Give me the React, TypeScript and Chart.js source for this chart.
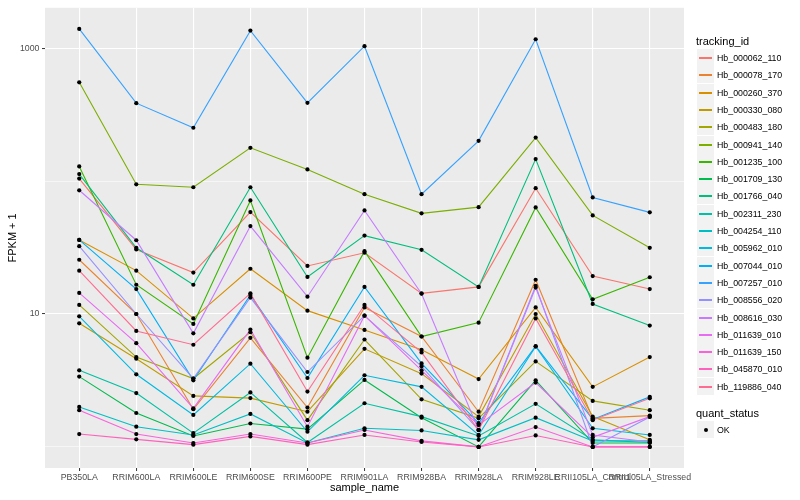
import React, { useEffect, useRef } from "react";
import { Chart, registerables } from "chart.js";

Chart.register(...registerables);

const CATEGORIES = [
  "PB350LA", "RRIM600LA", "RRIM600LE", "RRIM600SE", "RRIM600PE", "RRIM901LA",
  "RRIM928BA", "RRIM928LA", "RRIM928LE", "RRII105LA_Control", "RRII105LA_Stressed",
];

const Y_GRID = [1, 10, 100, 1000];
const Y_LABELED = [10, 1000];

const TRACKING_IDS = [
  "Hb_000062_110", "Hb_000078_170", "Hb_000260_370", "Hb_000330_080", "Hb_000483_180",
  "Hb_000941_140", "Hb_001235_100", "Hb_001709_130", "Hb_001766_040", "Hb_002311_230",
  "Hb_004254_110", "Hb_005962_010", "Hb_007044_010", "Hb_007257_010", "Hb_008556_020",
  "Hb_008616_030", "Hb_011639_010", "Hb_011639_150", "Hb_045870_010", "Hb_119886_040",
];

const COLORS = [
  "#F8766D", "#EA8331", "#D89000", "#C09B00", "#A3A500", "#7CAE00", "#39B600", "#00BB4E",
  "#00BF7D", "#00C1A3", "#00BFC4", "#00BAE0", "#00B0F6", "#35A2FF", "#9590FF", "#C77CFF",
  "#E76BF3", "#FA62DB", "#FF62BC", "#FF6C91",
];

const hb_000062_110 = [104.4, 30.6, 20.5, 58.5, 23.0, 28.9, 14.3, 16.0, 88.4, 19.3, 15.4];
const hb_000078_170 = [25.6, 10.0, 1.92, 6.62, 1.98, 11.2, 6.77, 1.84, 18.1, 1.64, 1.72];
const hb_000260_370 = [36.1, 21.2, 9.27, 21.9, 10.6, 7.59, 5.38, 3.24, 11.2, 2.83, 4.74];
const hb_000330_080 = [8.51, 4.61, 2.42, 2.33, 1.84, 5.47, 3.56, 1.69, 10.0, 1.69, 1.13];
const hb_000483_180 = [11.7, 4.74, 3.27, 7.29, 1.59, 6.43, 2.28, 1.64, 4.4, 2.22, 1.89];
const hb_000941_140 = [554, 94.6, 89.9, 178, 122.5, 79.7, 57.2, 63.7, 212.5, 55.2, 31.5];
const hb_001235_100 = [129, 16.6, 8.42, 71.5, 4.69, 29.7, 6.77, 8.61, 63.4, 12.9, 18.9];
const hb_001709_130 = [3.38, 1.8, 1.21, 1.5, 1.36, 3.19, 1.66, 1.0, 3.17, 1.07, 1.07];
const hb_001766_040 = [113, 31.5, 16.6, 89.9, 19.0, 38.9, 30.4, 16.0, 146.5, 11.9, 8.18];
const hb_002311_230 = [3.77, 2.54, 1.27, 2.57, 1.08, 2.13, 1.69, 1.21, 2.11, 1.13, 1.08];
const hb_004254_110 = [2.0, 1.42, 1.23, 1.77, 1.07, 1.38, 1.33, 1.13, 1.66, 1.11, 1.11];
const hb_005962_010 = [9.6, 3.52, 1.74, 4.23, 1.3, 3.46, 2.83, 1.23, 5.69, 1.38, 1.23];
const hb_007044_010 = [36.1, 15.4, 3.17, 13.9, 3.3, 16.0, 4.25, 1.51, 5.73, 1.61, 2.38];
const hb_007257_010 = [1396, 386, 252, 1356, 388, 1035, 79.7, 201, 1168, 75.3, 58.2];
const hb_008556_020 = [32.4, 10.0, 3.27, 13.3, 3.66, 9.71, 4.04, 1.34, 16.3, 1.0, 1.68];
const hb_008616_030 = [85.3, 35.9, 7.16, 45.9, 13.5, 60.2, 14.2, 1.34, 15.8, 1.23, 1.09];
const hb_011639_010 = [14.4, 6.03, 1.95, 7.63, 1.42, 9.71, 3.77, 1.46, 3.05, 1.18, 1.69];
const hb_011639_150 = [1.89, 1.25, 1.07, 1.25, 1.07, 1.34, 1.11, 1.0, 1.41, 1.0, 1.0];
const hb_045870_010 = [1.25, 1.14, 1.04, 1.2, 1.04, 1.23, 1.09, 1.0, 1.22, 1.0, 1.0];
const hb_119886_040 = [21.2, 7.46, 5.87, 14.3, 2.61, 11.7, 5.14, 1.34, 9.27, 1.59, 2.32];

const SERIES = [
  hb_000062_110, hb_000078_170, hb_000260_370, hb_000330_080, hb_000483_180,
  hb_000941_140, hb_001235_100, hb_001709_130, hb_001766_040, hb_002311_230,
  hb_004254_110, hb_005962_010, hb_007044_010, hb_007257_010, hb_008556_020,
  hb_008616_030, hb_011639_010, hb_011639_150, hb_045870_010, hb_119886_040,
];

const FONT = '"Liberation Sans", Arial, Helvetica, sans-serif';

const panelBg = {
  id: "panelBg",
  beforeDraw(chart: any) {
    const { ctx, chartArea } = chart;
    ctx.save();
    ctx.fillStyle = "#EBEBEB";
    ctx.fillRect(chartArea.left, chartArea.top, chartArea.right - chartArea.left, chartArea.bottom - chartArea.top);
    ctx.restore();
  },
};

export default function App() {
  const ref = useRef<HTMLCanvasElement | null>(null);

  useEffect(() => {
    if (!ref.current) return;
    const lineSets = SERIES.map((vals, i) => ({
      label: TRACKING_IDS[i],
      data: vals.map((v, j) => ({ x: j, y: v })),
      borderColor: COLORS[i],
      backgroundColor: COLORS[i],
      borderWidth: 1.1,
      pointRadius: 0,
      fill: false,
      tension: 0,
      order: 100 - i,
    }));
    const points: { x: number; y: number }[] = [];
    SERIES.forEach((vals) => vals.forEach((v, j) => points.push({ x: j, y: v })));
    const pointSet = {
      label: "OK",
      data: points,
      showLine: false,
      borderColor: "#000000",
      backgroundColor: "#000000",
      pointRadius: 2.1,
      pointBorderWidth: 0,
      order: 0,
    };

    const chart = new Chart(ref.current, {
      type: "line",
      data: { datasets: [...lineSets, pointSet] as any },
      plugins: [panelBg],
      options: {
        animation: false,
        responsive: false,
        devicePixelRatio: 1,
        layout: { padding: { top: 5, right: 116, left: 0, bottom: 0 } },
        plugins: { legend: { display: false }, tooltip: { enabled: false } },
        scales: {
          x: {
            type: "linear",
            min: -0.6,
            max: CATEGORIES.length - 1 + 0.6,
            afterBuildTicks: (scale: any) => {
              scale.ticks = CATEGORIES.map((_, i) => ({ value: i }));
            },
            afterFit: (scale: any) => {
              scale.height = 32;
            },
            ticks: {
              autoSkip: false,
              maxRotation: 0,
              minRotation: 0,
              padding: 1,
              color: "#4D4D4D",
              font: { family: FONT, size: 8.8 },
              callback: (v: any) => CATEGORIES[Math.round(Number(v))] ?? "",
            },
            grid: {
              color: "#FFFFFF",
              lineWidth: 1.1,
              tickLength: 3,
              tickColor: "#333333",
              tickWidth: 1,
            },
            border: { display: false },
            title: {
              display: true,
              text: "sample_name",
              color: "#000000",
              font: { family: FONT, size: 11 },
              padding: { top: 0, bottom: 5.4 },
            },
          },
          y: {
            type: "logarithmic",
            min: 0.694,
            max: 2014,
            afterBuildTicks: (scale: any) => {
              scale.ticks = Y_GRID.map((v) => ({ value: v }));
            },
            afterFit: (scale: any) => {
              scale.width = 45;
            },
            ticks: {
              padding: 2.5,
              color: "#4D4D4D",
              font: { family: FONT, size: 8.8 },
              callback: (v: any) => (Y_LABELED.includes(Number(v)) ? String(v) : ""),
            },
            grid: {
              color: "#FFFFFF",
              lineWidth: (c: any) => (Y_LABELED.includes(c.tick?.value) ? 1.1 : 0.55),
              tickLength: 3,
              tickColor: (c: any) => (Y_LABELED.includes(c.tick?.value) ? "#333333" : "rgba(0,0,0,0)"),
              tickWidth: 1,
            },
            border: { display: false },
            title: {
              display: true,
              text: "FPKM + 1",
              color: "#000000",
              font: { family: FONT, size: 11 },
              padding: { top: 6, bottom: 0 },
            },
          },
        },
      } as any,
    });
    return () => chart.destroy();
  }, []);

  const keyTop0 = 49;
  return (
    <div style={{ position: "fixed", left: 0, top: 0, width: 800, height: 500, background: "#FFFFFF", fontFamily: FONT }}>
      <canvas ref={ref} width={800} height={500} style={{ position: "absolute", left: 0, top: 0, width: 800, height: 500 }} />
      <div style={{ position: "absolute", left: 696, top: 34, fontSize: 11, lineHeight: "14px", color: "#000" }}>tracking_id</div>
      {TRACKING_IDS.map((id, i) => (
        <div key={id} style={{ position: "absolute", left: 697, top: Math.round(keyTop0 + i * 17.3), height: 17, display: "flex", alignItems: "center" }}>
          <div style={{ width: 17, height: 17, background: "#F2F2F2", position: "relative" }}>
            <div style={{ position: "absolute", left: 2, width: 13, top: 8, height: 1.5, background: COLORS[i] }} />
          </div>
          <div style={{ marginLeft: 3, fontSize: 8.8, color: "#000", whiteSpace: "nowrap" }}>{id}</div>
        </div>
      ))}
      <div style={{ position: "absolute", left: 696, top: 406, fontSize: 11, lineHeight: "14px", color: "#000" }}>quant_status</div>
      <div style={{ position: "absolute", left: 697, top: 421, height: 17, display: "flex", alignItems: "center" }}>
        <div style={{ width: 17, height: 17, background: "#F2F2F2", position: "relative" }}>
          <div style={{ position: "absolute", left: 6.5, top: 6.5, width: 4, height: 4, borderRadius: 2, background: "#000" }} />
        </div>
        <div style={{ marginLeft: 3, fontSize: 8.8, color: "#000" }}>OK</div>
      </div>
    </div>
  );
}
